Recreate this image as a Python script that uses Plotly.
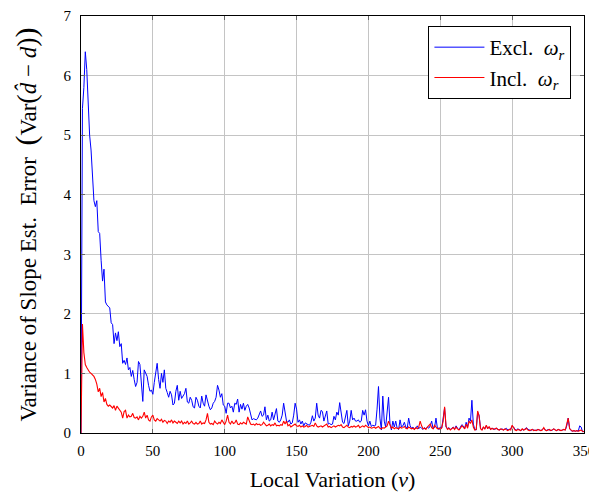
import plotly.graph_objects as go

nu = list(range(0, 351))

excl_omega = [
    0, 5.45, 5.8, 6.4, 6.1, 5.5, 5.0, 4.75, 4.3, 3.9,
    3.8, 3.9, 3.38, 3.35, 2.9, 2.55, 2.75, 2.2, 2.15, 2.13,
    2.1, 1.85, 1.82, 1.5, 1.68, 1.55, 1.7, 1.45, 1.5, 1.17,
    1.22, 1.15, 1.26, 1.06, 1.1, 0.95, 1.05, 0.9, 0.78, 0.85,
    1.2, 1.15, 0.8, 0.53, 1.06, 1.0, 0.95, 0.8, 0.7, 0.72,
    0.65, 0.85, 1.06, 1.17, 0.9, 0.75, 1.0, 0.85, 1.06, 0.75,
    0.68, 0.6, 0.7, 0.64, 0.47, 0.5, 0.7, 0.8, 0.55, 0.7,
    0.58, 0.62, 0.66, 0.75, 0.52, 0.5, 0.6, 0.55, 0.44, 0.42,
    0.6, 0.55, 0.45, 0.42, 0.62, 0.5, 0.45, 0.64, 0.52, 0.45,
    0.39, 0.42, 0.5, 0.53, 0.6, 0.8, 0.72, 0.6, 0.66, 0.47,
    0.45, 0.33, 0.5, 0.5, 0.42, 0.45, 0.35, 0.5, 0.48, 0.57,
    0.35, 0.48, 0.4, 0.5, 0.38, 0.45, 0.48, 0.42, 0.32, 0.22,
    0.24, 0.23, 0.22, 0.25, 0.3, 0.37, 0.28, 0.3, 0.44, 0.22,
    0.3, 0.2, 0.22, 0.35, 0.22, 0.3, 0.41, 0.2, 0.18, 0.22,
    0.3, 0.5, 0.38, 0.2, 0.18, 0.22, 0.15, 0.17, 0.3, 0.5,
    0.4, 0.18, 0.22, 0.15, 0.2, 0.12, 0.17, 0.15, 0.14, 0.13,
    0.18, 0.29, 0.2, 0.25, 0.5, 0.3, 0.25, 0.38, 0.36, 0.2,
    0.3, 0.37, 0.15, 0.16, 0.14, 0.15, 0.28, 0.22, 0.35, 0.3,
    0.51, 0.3, 0.18, 0.16, 0.26, 0.38, 0.12, 0.2, 0.38, 0.22,
    0.25, 0.2, 0.2, 0.22, 0.18, 0.2, 0.38, 0.3, 0.39, 0.2,
    0.12, 0.2, 0.11, 0.13, 0.12, 0.13, 0.4, 0.78, 0.25, 0.05,
    0.62, 0.2, 0.1, 0.35, 0.6, 0.15, 0.05, 0.2, 0.1, 0.2,
    0.08, 0.06, 0.22, 0.1, 0.12, 0.18, 0.1, 0.08, 0.25, 0.12,
    0.08, 0.1, 0.06, 0.08, 0.12, 0.07, 0.1, 0.08, 0.06, 0.09,
    0.07, 0.1, 0.08, 0.12, 0.2, 0.07, 0.09, 0.25, 0.08, 0.06,
    0.1, 0.08, 0.25, 0.42, 0.1, 0.07, 0.09, 0.06, 0.08, 0.1,
    0.07, 0.12, 0.08, 0.05, 0.1, 0.14, 0.12, 0.08, 0.18, 0.1,
    0.25, 0.2, 0.55, 0.15, 0.06, 0.05, 0.35, 0.3, 0.08, 0.05,
    0.1, 0.07, 0.12, 0.08, 0.1, 0.06, 0.08, 0.07, 0.06, 0.08,
    0.07, 0.05, 0.06, 0.07, 0.05, 0.06, 0.08, 0.05, 0.06, 0.07,
    0.12, 0.1, 0.06, 0.05, 0.07, 0.05, 0.04, 0.06, 0.05, 0.07,
    0.09, 0.06, 0.05, 0.04, 0.06, 0.05, 0.04, 0.05, 0.06, 0.05,
    0.04, 0.06, 0.08, 0.05, 0.04, 0.06, 0.05, 0.04, 0.05, 0.07,
    0.05, 0.04, 0.06, 0.05, 0.04, 0.05, 0.06, 0.05, 0.12, 0.25,
    0.08, 0.04, 0.03, 0.04, 0.03, 0.04, 0.03, 0.12, 0.1, 0.02,
    0.03,
]

incl_omega = [
    0, 1.83, 1.35, 1.15, 1.1, 1.05, 1.02, 1.0, 0.98, 0.95,
    0.9, 0.82, 0.69, 0.75, 0.61, 0.68, 0.52, 0.58, 0.48, 0.45,
    0.47, 0.44, 0.42, 0.46, 0.38, 0.45, 0.42, 0.4, 0.35, 0.25,
    0.36, 0.38, 0.25, 0.3, 0.27, 0.28, 0.33, 0.26, 0.25, 0.27,
    0.22, 0.28, 0.25, 0.28, 0.35, 0.25, 0.3, 0.22, 0.2, 0.27,
    0.3, 0.22, 0.2, 0.24, 0.22, 0.2, 0.23, 0.18, 0.21, 0.2,
    0.16, 0.2, 0.18, 0.22, 0.17, 0.2, 0.18, 0.16, 0.2, 0.17,
    0.2, 0.15, 0.18, 0.16, 0.2, 0.15, 0.17, 0.2, 0.16, 0.15,
    0.18, 0.15, 0.16, 0.2, 0.15, 0.17, 0.16, 0.22, 0.33, 0.18,
    0.15, 0.16, 0.14, 0.2, 0.17, 0.15, 0.18, 0.16, 0.22, 0.18,
    0.14, 0.2, 0.3, 0.18, 0.15, 0.2, 0.16, 0.17, 0.22, 0.15,
    0.14, 0.17, 0.15, 0.18, 0.16, 0.15, 0.27, 0.2, 0.15, 0.14,
    0.15, 0.13, 0.16, 0.14, 0.15, 0.13, 0.14, 0.18, 0.14, 0.12,
    0.13, 0.15, 0.12, 0.14, 0.13, 0.17, 0.12, 0.13, 0.12, 0.14,
    0.13, 0.2, 0.15, 0.2, 0.12, 0.14, 0.1, 0.12, 0.13, 0.15,
    0.12, 0.11, 0.13, 0.1, 0.12, 0.1, 0.11, 0.13, 0.1, 0.11,
    0.12, 0.13, 0.11, 0.17, 0.12, 0.1, 0.11, 0.12, 0.1, 0.12,
    0.13, 0.15, 0.1, 0.11, 0.09, 0.1, 0.12, 0.1, 0.11, 0.13,
    0.12, 0.14, 0.1, 0.09, 0.11, 0.13, 0.1, 0.09, 0.11, 0.1,
    0.12, 0.1, 0.11, 0.13, 0.09, 0.1, 0.12, 0.1, 0.13, 0.11,
    0.09, 0.1, 0.08, 0.09, 0.1, 0.08, 0.09, 0.11, 0.08, 0.07,
    0.09, 0.08, 0.1, 0.12, 0.2, 0.12, 0.08, 0.1, 0.07, 0.09,
    0.08, 0.07, 0.1, 0.08, 0.09, 0.11, 0.08, 0.07, 0.1, 0.09,
    0.07, 0.08, 0.06, 0.09, 0.07, 0.1, 0.2, 0.12, 0.07, 0.08,
    0.06, 0.1, 0.12, 0.15, 0.09, 0.07, 0.13, 0.1, 0.07, 0.08,
    0.06, 0.09, 0.2, 0.44, 0.12, 0.06, 0.08, 0.05, 0.07, 0.09,
    0.06, 0.1, 0.07, 0.05, 0.08, 0.12, 0.1, 0.07, 0.15, 0.08,
    0.2, 0.16, 0.22, 0.1, 0.05, 0.06, 0.37, 0.28, 0.07, 0.05,
    0.1, 0.07, 0.13, 0.07, 0.11, 0.06, 0.08, 0.06, 0.07, 0.08,
    0.06, 0.05, 0.07, 0.06, 0.05, 0.07, 0.06, 0.04, 0.06, 0.05,
    0.13, 0.09, 0.05, 0.04, 0.06, 0.05, 0.04, 0.07, 0.05, 0.06,
    0.08, 0.05, 0.04, 0.05, 0.06, 0.04, 0.05, 0.04, 0.06, 0.05,
    0.04, 0.05, 0.09, 0.05, 0.04, 0.05, 0.06, 0.04, 0.05, 0.07,
    0.05, 0.04, 0.06, 0.05, 0.04, 0.05, 0.06, 0.05, 0.15, 0.25,
    0.07, 0.04, 0.03, 0.04, 0.03, 0.04, 0.03, 0.04, 0.05, 0.03,
    0.02,
]

x_ticks = [0, 50, 100, 150, 200, 250, 300, 350]
y_ticks = [0, 1, 2, 3, 4, 5, 6, 7]

FONT = "Liberation Serif"

fig = go.Figure()
fig.add_trace(go.Scatter(
    x=nu, y=excl_omega, mode="lines",
    line=dict(color="#0000ff", width=1),
    name="Excl.  <i>ω</i><sub><i>r</i></sub>",
))
fig.add_trace(go.Scatter(
    x=nu, y=incl_omega, mode="lines",
    line=dict(color="#ff0000", width=1.1),
    name="Incl.  <i>ω</i><sub><i>r</i></sub>",
))

axis_common = dict(
    showgrid=True, gridcolor="#c4c4c4", gridwidth=1,
    showline=True, linecolor="black", linewidth=1, mirror="ticks",
    ticks="inside", ticklen=4, tickcolor="#666666", tickwidth=1,
    zeroline=False, automargin=False,
    tickfont=dict(family=FONT, size=15, color="black"),
)

y_title = ("Variance of Slope Est.  Error  "
           "<span style='font-size:30px'>(</span>Var"
           "<span style='font-size:28px'>(</span><i>d̂</i> − <i>d</i>"
           "<span style='font-size:28px'>)</span>"
           "<span style='font-size:30px'>)</span>")

fig.update_layout(
    width=589, height=484,
    margin=dict(l=73, r=13, t=8, b=59, autoexpand=False),
    paper_bgcolor="white", plot_bgcolor="white",
    font=dict(family=FONT, color="black"),
    xaxis=dict(
        range=[0, 350], tickvals=x_ticks, ticklabelstandoff=4,
        title=dict(text="Local Variation (<i>ν</i>)", font=dict(family=FONT, size=22), standoff=18),
        **axis_common,
    ),
    yaxis=dict(
        range=[0, 7], tickvals=y_ticks, ticklabelstandoff=6,
        title=dict(text=y_title, font=dict(family=FONT, size=23), standoff=20),
        **axis_common,
    ),
    legend=dict(
        x=0.975, y=0.976, xanchor="right", yanchor="top",
        bgcolor="white", bordercolor="black", borderwidth=1,
        font=dict(family=FONT, size=21),
        itemwidth=50,
        tracegroupgap=0,
    ),
    showlegend=True,
)

fig.write_html("out.html")
